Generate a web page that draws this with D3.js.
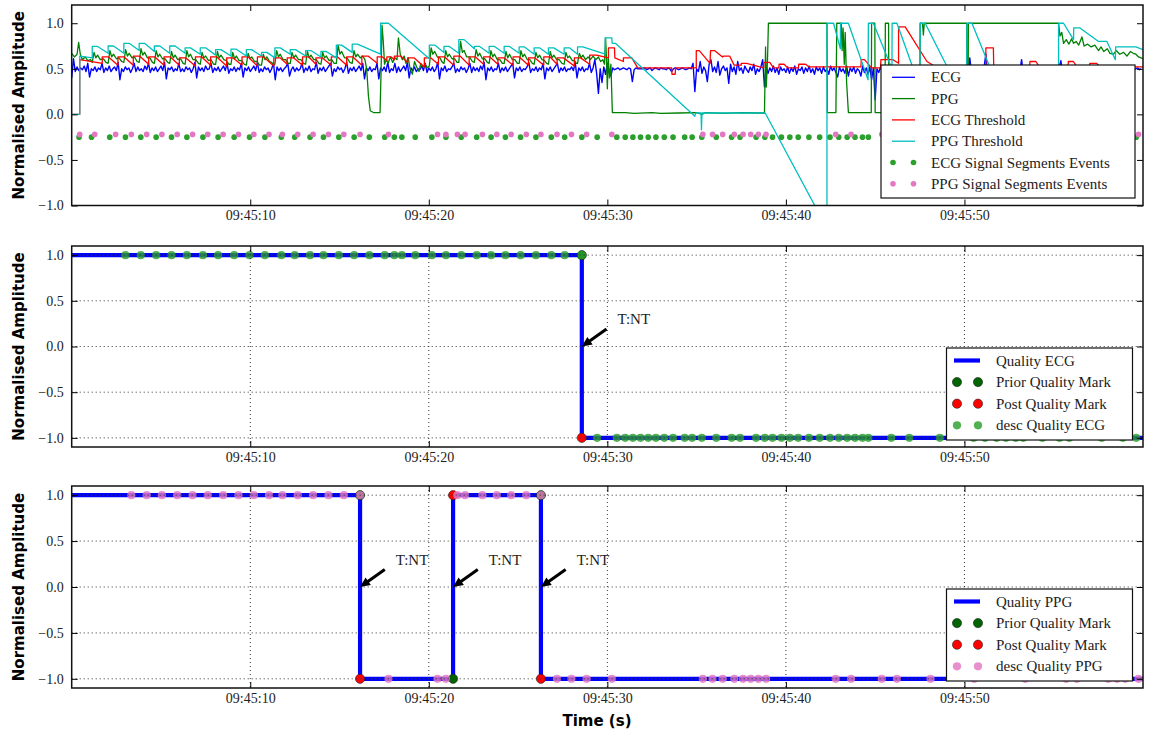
<!DOCTYPE html>
<html>
<head>
<meta charset="utf-8">
<script src="https://cdn.jsdelivr.net/npm/d3@7"></script>
<style>
  body { margin: 0; background: #fff; }
  svg { display: block; }
</style>
</head>
<body>
<svg id="chart" width="1154" height="733"></svg>
<script>
// ---------------------------------------------------------------------------
// Recording window: 09:45:00 + seconds
// ---------------------------------------------------------------------------
const windowStart = new Date(2016, 0, 1, 9, 45, 0);
const windowLength = 60;                    // seconds
const timeTicks = [10, 20, 30, 40, 50];     // seconds after 09:45:00
const ampTicks = [-1, -0.5, 0, 0.5, 1];

// ECG, normalised, sampled every 0.1 s (values in hundredths)
const ecgStart = 0, ecgStep = 0.1;
const ecgValues = [
  40,61,47,52,48,51,49,53,47,56,41,50,48,52,47,51,49,56,46,51,
  48,53,47,50,52,48,57,38,50,47,52,49,51,46,50,56,47,52,48,50,
  47,53,49,56,46,51,48,52,47,50,53,48,57,39,51,49,52,47,50,48,
  56,47,50,47,52,49,51,46,50,57,40,52,48,51,47,53,49,50,56,46,
  51,48,52,47,50,53,48,56,45,50,48,52,47,51,49,56,41,51,48,52,
  47,50,53,48,57,46,50,47,52,49,51,46,50,56,38,52,48,51,47,50,
  52,56,42,49,52,47,51,48,50,56,46,51,48,53,47,50,49,57,45,51,
  48,52,47,50,53,56,42,50,47,52,49,51,46,50,57,45,51,48,52,47,
  50,53,48,56,39,51,48,52,47,50,49,56,39,51,48,52,47,57,46,50,
  48,56,46,52,47,50,53,48,57,40,51,48,52,47,50,49,53,48,56,46,
  51,48,52,47,50,57,39,51,48,53,47,50,49,52,56,46,50,47,52,49,
  51,46,50,56,46,52,48,51,47,53,49,57,38,51,48,52,47,50,49,56,
  46,51,48,52,47,50,53,56,40,51,48,52,47,50,49,52,57,46,50,48,
  52,47,51,49,56,39,51,48,52,47,50,53,56,46,51,48,52,47,50,49,
  52,48,57,40,51,48,52,47,50,49,56,46,51,60,45,23,50,35,52,44,
  56,47,42,51,49,50,51,49,50,51,50,49,51,50,36,49,51,50,50,50,
  50,51,49,50,51,48,50,51,50,49,51,50,50,49,51,50,47,50,51,50,
  49,50,51,50,49,50,51,50,56,25,50,47,58,45,52,48,36,55,60,47,
  52,46,58,43,50,53,48,51,34,55,47,52,44,58,48,51,45,53,49,46,
  52,48,55,44,50,47,52,60,30,53,45,51,47,53,46,51,44,52,48,50,
  46,52,45,51,47,53,44,50,48,52,45,51,47,53,46,50,44,52,48,51,
  45,52,47,50,44,53,48,51,46,41,52,47,50,45,53,42,51,47,52,45,
  50,48,42,53,46,51,44,52,38,51,16,50,46,52,47,51,45,53,48,50,
  46,52,47,51,44,50,53,47,51,45,52,48,50,46,53,47,51,44,52,48,
  50,46,52,47,51,45,53,48,50,46,52,47,51,44,50,53,47,51,45,52,
  48,50,46,62,44,51,47,53,46,50,48,52,66,42,50,47,52,45,51,48,
  50,46,52,47,51,45,53,48,50,46,52,47,60,44,50,53,47,51,45,52,
  48,50,46,52,47,51,45,53,48,50,46,52,47,51,59,44,50,53,47,51,
  45,52,48,50,46,52,47,51,45,53,48,50,46,52,47,51,45,53,48,50,
  46,52,47,51,45,53,48,50,46,52,47,51,49,50,51,49,50,51,49,50
];

// PPG, normalised: [seconds, amplitude]
const ppg = [
  [0,.67],[0.15,.63],[0.3,.66],[0.39,.79],[0.48,.66],[0.6,.6],[0.75,.63],[0.9,.59],[1.05,.6],
  [1.15,.57],[1.25,.68],[1.35,.62],[1.45,.65],[1.6,.6],[1.78,.61],[1.92,.57],
  [2.04,.56],[2.14,.70],[2.24,.63],[2.34,.66],[2.5,.61],[2.65,.62],[2.8,.58],
  [2.92,.57],[3.02,.71],[3.12,.64],[3.22,.67],[3.38,.62],[3.52,.63],[3.66,.58],
  [3.78,.57],[3.88,.72],[3.98,.65],[4.08,.68],[4.24,.62],[4.38,.62],[4.52,.57],
  [4.63,.56],[4.73,.70],[4.83,.63],[4.93,.66],[5.08,.61],[5.22,.61],[5.38,.57],
  [5.49,.56],[5.59,.69],[5.69,.62],[5.79,.65],[5.94,.6],[6.1,.61],[6.24,.56],
  [6.35,.55],[6.45,.70],[6.55,.63],[6.65,.66],[6.8,.6],[6.95,.6],[7.1,.56],
  [7.2,.55],[7.3,.68],[7.4,.62],[7.5,.64],[7.66,.59],[7.8,.6],[7.95,.55],
  [8.06,.55],[8.16,.69],[8.26,.62],[8.36,.65],[8.52,.6],[8.66,.59],[8.8,.55],
  [8.92,.55],[9.02,.68],[9.12,.61],[9.22,.64],[9.38,.59],[9.52,.59],[9.66,.55],
  [9.78,.54],[9.88,.67],[9.98,.61],[10.08,.63],[10.24,.58],[10.38,.58],[10.52,.54],
  [10.63,.54],[10.73,.66],[10.83,.6],[10.93,.63],[11.08,.58],[11.2,.57],[11.3,.55],
  [11.38,.55],[11.48,.70],[11.58,.63],[11.68,.66],[11.84,.6],[11.98,.6],[12.12,.56],
  [12.24,.56],[12.34,.68],[12.44,.62],[12.54,.65],[12.7,.6],[12.84,.6],[12.98,.56],
  [13.1,.55],[13.2,.69],[13.3,.62],[13.4,.65],[13.56,.6],[13.7,.6],[13.84,.56],
  [13.96,.55],[14.06,.68],[14.16,.62],[14.26,.64],[14.42,.59],[14.56,.6],[14.7,.56],
  [14.82,.56],[14.92,.76],[15.02,.66],[15.12,.69],[15.28,.62],[15.42,.62],[15.58,.57],
  [15.71,.56],[15.81,.70],[15.91,.63],[16.01,.66],[16.16,.62],[16.3,.64],[16.42,.6],
  [16.52,.5],[16.62,.2],[16.72,.04],[16.9,.02],[17.1,.02],[17.27,.02],[17.33,.5],[17.38,.98],
  [17.45,.8],[17.52,.55],[17.62,.6],[17.72,.56],[17.85,.63],[17.98,.57],[18.1,.62],[18.22,.6],
  [18.3,.84],[18.4,.66],[18.52,.6],[18.62,.64],[18.72,.56],[18.85,.62],[18.95,.5],[19.08,.44],
  [19.2,.58],[19.32,.52],[19.45,.47],[19.55,.56],[19.68,.52],[19.8,.55],[19.92,.51],
  [20.03,.53],[20.13,.73],[20.23,.66],[20.33,.69],[20.48,.63],[20.62,.62],[20.76,.57],
  [20.85,.56],[20.95,.70],[21.05,.63],[21.15,.66],[21.3,.61],[21.45,.61],[21.58,.57],
  [21.68,.57],[21.78,.80],[21.88,.68],[21.98,.7],[22.12,.63],[22.28,.63],[22.44,.58],
  [22.55,.57],[22.65,.71],[22.75,.64],[22.85,.67],[23.0,.61],[23.14,.61],[23.28,.57],
  [23.38,.56],[23.48,.70],[23.58,.63],[23.68,.66],[23.84,.6],[23.98,.6],[24.12,.56],
  [24.22,.56],[24.32,.69],[24.42,.62],[24.52,.66],[24.68,.6],[24.82,.6],[24.96,.56],
  [25.06,.56],[25.16,.70],[25.26,.63],[25.36,.66],[25.52,.6],[25.66,.6],[25.8,.56],
  [25.9,.55],[26.0,.68],[26.1,.62],[26.2,.65],[26.34,.6],[26.48,.59],[26.6,.56],
  [26.7,.55],[26.8,.69],[26.9,.62],[27.0,.65],[27.16,.6],[27.3,.6],[27.46,.56],
  [27.58,.55],[27.68,.68],[27.78,.62],[27.88,.64],[28.04,.59],[28.16,.59],[28.26,.56],
  [28.33,.56],[28.43,.67],[28.53,.62],[28.63,.65],[28.78,.6],[28.92,.63],[29.05,.6],
  [29.2,.64],[29.35,.6],[29.5,.63],[29.62,.58],[29.75,.6],[29.84,.55],[29.9,.84],
  [29.95,.62],[30.0,.28],[30.05,.62],[30.12,.4],[30.2,.55],[30.28,.02],[31.0,.02],
  [31.5,.01],[32.5,.02],[33.0,.01],[34.0,.015],[35.0,.02],[35.3,0],[35.5,.02],
  [36.5,.01],[37.5,.02],[38.5,.015],[38.8,.015],
  [38.86,.74],[38.9,.3],[38.97,.6],[39.02,1],[42.3,1],[42.32,.02],[42.8,.02],
  [42.85,1],[43.1,1],[43.15,.7],[43.2,.95],[43.27,.55],[43.32,.9],[43.4,.35],[43.5,.02],
  [44.78,.02],[44.8,1],[44.98,1],[45.0,.02],[45.55,.02],[45.57,1],[45.75,1],[45.77,.02],
  [47.5,.02],[47.52,1],[47.65,1],[47.7,.87],[47.75,1],[50.13,1],[50.15,.02],[50.2,.02],
  [50.22,1],[55.27,1],
  [55.35,.86],[55.45,.9],[55.55,.78],[55.7,.82],[55.85,.77],[56.0,.83],[56.11,.78],
  [56.25,.8],[56.4,.76],[56.58,.85],[56.7,.75],[56.9,.77],[57.1,.74],[57.3,.76],
  [57.51,.7],[57.65,.74],[57.8,.69],[58.0,.72],[58.15,.67],[58.35,.66],[58.5,.7],
  [58.7,.66],[58.91,.68],[59.1,.64],[59.3,.69],[59.45,.67],[59.6,.66],[59.75,.63],[60,.61]
];

// Adaptive ECG detection threshold: [seconds, amplitude]
const ecgThreshold = [
  [0,0],[0.45,0],[0.45,.60],
  [1.71,.56],[1.71,.63],[2.06,.63],[2.59,.54],[2.59,.63],[2.94,.63],
  [3.45,.54],[3.45,.64],[3.8,.64],[4.31,.55],[4.31,.63],[4.66,.63],
  [5.17,.54],[5.17,.63],[5.52,.63],[6.03,.54],[6.03,.62],[6.38,.62],
  [6.93,.53],[6.93,.63],[7.28,.63],[7.78,.54],[7.78,.63],[8.13,.63],
  [8.68,.53],[8.68,.62],[9.03,.62],[9.54,.54],[9.54,.63],[9.89,.63],
  [10.40,.53],[10.40,.63],[10.75,.63],[11.32,.53],[11.32,.62],[11.67,.62],
  [12.07,.55],[12.07,.62],[12.42,.62],[12.93,.54],[12.93,.63],[13.28,.63],
  [13.68,.55],[13.68,.62],[14.03,.62],[14.54,.54],[14.54,.63],[14.89,.63],
  [15.40,.54],[15.40,.63],[15.75,.63],[16.25,.54],[16.25,.64],[16.6,.64],
  [17.11,.56],[17.11,.63],[17.4,.63],[17.65,.59],[17.65,.63],[17.9,.63],
  [18.07,.60],[18.07,.64],[18.42,.64],[18.82,.57],[18.82,.62],[19.17,.62],
  [19.75,.52],[19.75,.62],[20.1,.62],[20.54,.55],[20.54,.63],[20.89,.63],
  [21.40,.54],[21.40,.64],[21.75,.64],[22.26,.54],[22.26,.63],[22.61,.63],
  [23.07,.55],[23.07,.63],[23.42,.63],[23.87,.55],[23.87,.62],[24.22,.62],
  [24.72,.54],[24.72,.63],[25.07,.63],[25.58,.54],[25.58,.62],[25.93,.62],
  [26.44,.54],[26.44,.63],[26.79,.63],[27.19,.55],[27.19,.62],[27.54,.62],
  [28.15,.53],[28.15,.62],[28.5,.62],[29.01,.55],[29.01,.65],[29.4,.65],
  [30.06,.62],[30.06,.73],[30.4,.73],[30.42,.62],[30.9,.58],[30.9,.62],[31.37,.62],[31.7,.51],
  [33.6,.51],[33.62,.44],[33.8,.44],[33.82,.51],[34.98,.51],[34.98,.70],[35.15,.70],[35.75,.56],
  [35.78,.70],[36.0,.70],[36.45,.63],[36.5,.64],[36.85,.64],[37.1,.54],
  [37.5,.54],[37.5,.56],[37.8,.56],[38.75,.51],[38.77,.57],[39.1,.57],[39.3,.51],
  [39.6,.51],[39.62,.55],[39.9,.55],[40.1,.51],[40.7,.51],[40.72,.55],[41.1,.55],[41.3,.52],
  [44.2,.52],[44.22,.6],[44.4,.6],[44.8,.51],[45.3,.51],[45.32,.6],[46.0,.6],[46.31,.56],
  [46.31,.96],[46.68,.96],[47.9,.58],[48.4,.52],[51.2,.52],[51.2,.73],[51.62,.73],[51.64,.53],
  [53.65,.52],[53.67,.58],[54.0,.58],[54.2,.52],[55.8,.52],[55.82,.58],[56.1,.58],[56.3,.52],
  [57.0,.52],[57.02,.56],[57.4,.56],[57.6,.52],[60,.52]
];

// Adaptive PPG detection threshold: [seconds, amplitude]
const ppgThreshold = [
  [0,0],[0.45,0],[0.45,.64],
  [1.15,.62],[1.15,.745],[1.45,.745],[2.04,.67],[2.04,.75],[2.34,.75],
  [2.92,.67],[2.92,.78],[3.22,.78],[3.78,.70],[3.78,.78],[4.08,.78],
  [4.63,.69],[4.63,.75],[4.93,.75],[5.49,.67],[5.49,.75],[5.79,.75],
  [6.35,.67],[6.35,.73],[6.65,.73],[7.20,.66],[7.20,.73],[7.5,.73],
  [8.06,.65],[8.06,.71],[8.36,.71],[8.92,.64],[8.92,.715],[9.22,.715],
  [9.78,.64],[9.78,.71],[10.08,.71],[10.63,.64],[10.63,.68],[10.93,.68],
  [11.38,.62],[11.38,.73],[11.68,.73],[12.24,.66],[12.24,.71],[12.54,.71],
  [13.10,.64],[13.10,.70],[13.4,.70],[13.96,.63],[13.96,.69],[14.26,.69],
  [14.82,.62],[14.82,.76],[15.12,.76],[15.71,.68],[15.71,.77],[16.0,.77],
  [17.3,.66],[17.3,1],[17.74,1],
  [20.03,.61],[20.03,.76],[20.33,.76],[20.85,.68],[20.85,.745],[21.15,.745],
  [21.68,.67],[21.68,.82],[21.98,.82],[22.55,.72],[22.55,.745],[22.85,.745],
  [23.38,.67],[23.38,.745],[23.68,.745],[24.22,.67],[24.22,.745],[24.52,.745],
  [25.06,.67],[25.06,.74],[25.36,.74],[25.9,.66],[25.9,.73],[26.2,.73],
  [26.7,.66],[26.7,.73],[27.0,.73],[27.58,.66],[27.58,.73],[27.88,.73],
  [28.33,.66],[28.33,.74],[28.63,.74],[29.88,.66],[29.88,.84],[30.25,.84],[30.27,.78],[30.45,.78],
  [34.9,-.02],[34.95,.015],[35.25,.015],[35.27,-.17],[35.3,.015],[38.84,.015],
  [42.3,-1.25],[42.3,1],[42.67,1],[43.05,.72],[43.06,1],[43.5,1],
  [44.6,.38],[44.62,1],[44.9,1],[45.94,.5],[45.95,1],[46.22,1],
  [47.5,.3],[47.52,1],[47.8,1],[50.12,.1],[50.14,1],[50.42,1],
  [52.5,0],[55.27,0],[55.27,1],[55.55,1],[56.11,.82],[56.12,.95],[56.45,.95],
  [57.51,.8],[57.98,.8],[58.45,.6],[58.47,.74],[59.6,.74],[60,.71]
];

// Detected signal segment events (seconds)
const ecgEvents = [
  0.41,1.11,2.13,3.01,3.87,4.73,5.59,6.45,7.35,8.20,9.10,9.96,10.82,11.74,12.49,13.35,
  14.10,14.96,15.82,16.67,17.53,18.07,18.49,19.24,20.17,20.96,21.82,22.68,23.49,24.29,
  25.14,26.00,26.86,27.61,28.57,29.43,30.53,31.0,31.43,31.86,32.29,32.72,33.19,33.68,
  34.33,34.75,35.29,36.1,36.96,37.43,38.33,38.82,39.25,39.75,40.22,40.69,41.29,41.89,
  42.47,42.96,43.43,43.87,44.29,44.62,45.90,46.91,48.62,50.51,51.15,51.80,52.33,52.87,
  53.29,54.37,55.33,55.87,57.69,58.87,59.62
];
const ppgEvents = [
  0.45,1.29,2.46,3.34,4.20,5.05,5.91,6.77,7.62,8.48,9.34,10.20,11.05,11.80,12.66,13.52,
  14.38,15.24,16.15,17.74,20.49,20.96,21.60,22.03,23.00,23.81,24.61,25.46,26.28,27.18,
  27.99,28.84,30.25,35.35,35.89,36.46,37.11,37.60,38.03,38.46,38.89,42.79,43.65,45.37,
  46.22,48.10,50.55,53.40,55.70,56.30,58.05,58.55,59.0,59.75
];
const ecgEventLevel = -0.25;
const ppgEventLevel = -0.22;
const descStart = 3.0;   // quality descriptors start after the warm-up

// Signal quality state (1 = good, -1 = poor): [seconds, state]
const qualityEcg = [[0, 1], [28.57, -1], [60, -1]];
const qualityPpg = [[0, 1], [16.15, -1], [21.36, 1], [26.28, -1], [60, -1]];
const transitionLabel = "T:NT";

// ---------------------------------------------------------------------------
// Layout
// ---------------------------------------------------------------------------
const svg = d3.select("#chart");
const plotLeft = 71.7, plotRight = 1143;
const serif = "'Liberation Serif', 'Times New Roman', serif";
const sans = "'DejaVu Sans', sans-serif";
const descOpacity = 0.82;

const toDate = s => new Date(windowStart.getTime() + s * 1000);
const x = d3.scaleTime()
  .domain([toDate(0), toDate(windowLength)])
  .range([plotLeft, plotRight]);

const panels = [
  { id: "signals", top: 5,   bottom: 205.5, domain: [-1, 1.2],  grid: false },
  { id: "ecgq",    top: 246, bottom: 447,   domain: [-1.1, 1.1], grid: true },
  { id: "ppgq",    top: 486, bottom: 688,   domain: [-1.1, 1.1], grid: true }
];
panels.forEach(p => {
  p.y = d3.scaleLinear().domain(p.domain).range([p.bottom, p.top]);
  p.g = svg.append("g");
  const cid = "clip-" + p.id;
  svg.append("clipPath").attr("id", cid).append("rect")
    .attr("x", plotLeft).attr("y", p.top)
    .attr("width", plotRight - plotLeft).attr("height", p.bottom - p.top);
  p.data = p.g.append("g").attr("clip-path", `url(#${cid})`);
});

const line = y => d3.line().x(d => x(toDate(d[0]))).y(d => y(d[1]));

// ---------------------------------------------------------------------------
// Panel 1: raw signals, thresholds and events
// ---------------------------------------------------------------------------
const P1 = panels[0];
const ecg = ecgValues.map((v, i) => [ecgStart + i * ecgStep, v / 100]);

const signalSeries = [
  { name: "ECG",           data: ecg,          color: "#0000ff", width: 1.4 },
  { name: "PPG",           data: ppg,          color: "#008000", width: 1.3 },
  { name: "ECG Threshold", data: ecgThreshold, color: "#ff0000", width: 1.3 },
  { name: "PPG Threshold", data: ppgThreshold, color: "#00bfbf", width: 1.3 }
];
signalSeries.forEach(s => {
  P1.data.append("path")
    .attr("d", line(P1.y)(s.data))
    .attr("fill", "none")
    .attr("stroke", s.color)
    .attr("stroke-width", s.width)
    .attr("stroke-linejoin", "round");
});

const eventSeries = [
  { name: "ECG Signal Segments Events", times: ecgEvents, level: ecgEventLevel, color: "#2ca02c" },
  { name: "PPG Signal Segments Events", times: ppgEvents, level: ppgEventLevel, color: "#e377c2" }
];
eventSeries.forEach(s => {
  P1.data.append("g").selectAll("circle").data(s.times).join("circle")
    .attr("cx", t => x(toDate(t)))
    .attr("cy", P1.y(s.level))
    .attr("r", 2.8)
    .attr("fill", s.color);
});

// ---------------------------------------------------------------------------
// Panels 2 & 3: quality state
// ---------------------------------------------------------------------------
function stateAt(steps, t) {
  let v = steps[0][1];
  for (const s of steps) { if (s[0] < t) v = s[1]; }
  return v;
}

function drawArrow(g, x1, y1, x2, y2) {
  const dx = x2 - x1, dy = y2 - y1, len = Math.hypot(dx, dy);
  const ux = dx / len, uy = dy / len, px = -uy, py = ux;
  const head = 10, hw = 4.6, sw = 1.5;
  const bx = x2 - ux * head, by = y2 - uy * head;
  const pts = [
    [x1 + px * sw, y1 + py * sw], [bx + px * sw, by + py * sw], [bx + px * hw, by + py * hw],
    [x2, y2],
    [bx - px * hw, by - py * hw], [bx - px * sw, by - py * sw], [x1 - px * sw, y1 - py * sw]
  ];
  g.append("polygon").attr("points", pts.map(p => p.join(",")).join(" ")).attr("fill", "#000");
}

function qualityPanel(p, steps, events, descColor) {
  p.data.append("path")
    .attr("d", line(p.y).curve(d3.curveStepAfter)(steps))
    .attr("fill", "none")
    .attr("stroke", "#0000ff")
    .attr("stroke-width", 4.2);

  const changes = steps.slice(1, -1);
  const prior = changes.map((c, i) => [c[0], steps[i][1]]);
  const post = changes.map(c => [c[0], c[1]]);

  const mark = (pts, color) => p.data.append("g").selectAll("circle").data(pts).join("circle")
    .attr("cx", d => x(toDate(d[0])))
    .attr("cy", d => p.y(d[1]))
    .attr("r", 4.6)
    .attr("fill", color)
    .attr("stroke", "#222")
    .attr("stroke-width", 0.6);
  mark(prior, "#006400");
  mark(post, "#ff0000");

  const desc = events.filter(t => t >= descStart);
  p.data.append("g").selectAll("circle").data(desc).join("circle")
    .attr("cx", t => x(toDate(t)))
    .attr("cy", t => p.y(stateAt(steps, t)))
    .attr("r", 4.1)
    .attr("fill", descColor)
    .attr("fill-opacity", descOpacity);

  p.changes = changes;
}

qualityPanel(panels[1], qualityEcg, ecgEvents, "#2ca02c");
qualityPanel(panels[2], qualityPpg, ppgEvents, "#e377c2");

// ---------------------------------------------------------------------------
// Grid, ticks and frames
// ---------------------------------------------------------------------------
const fmtTime = d3.timeFormat("%H:%M:%S");
const fmtAmp = d3.format(".1f");
const tickDates = timeTicks.map(toDate);

panels.forEach(p => {
  const g = p.g;
  if (p.grid) {
    const grid = g.append("g").attr("stroke", "#333").attr("stroke-width", 1)
      .attr("stroke-dasharray", "1,3");
    tickDates.forEach(d => grid.append("line")
      .attr("x1", x(d)).attr("x2", x(d)).attr("y1", p.top).attr("y2", p.bottom));
    ampTicks.forEach(v => grid.append("line")
      .attr("x1", plotLeft).attr("x2", plotRight).attr("y1", p.y(v)).attr("y2", p.y(v)));
  }

  const styleAxis = sel => {
    sel.select(".domain").remove();
    sel.selectAll(".tick line").attr("stroke", "#000").attr("stroke-width", 1);
    sel.selectAll(".tick text").attr("fill", "#222")
      .style("font-family", serif).style("font-size", "14px");
  };

  g.append("g").attr("transform", `translate(0,${p.bottom})`)
    .call(d3.axisBottom(x).tickValues(tickDates).tickFormat(fmtTime)
      .tickSizeInner(-6).tickSizeOuter(0).tickPadding(5))
    .call(styleAxis);
  g.append("g").attr("transform", `translate(0,${p.top})`)
    .call(d3.axisTop(x).tickValues(tickDates).tickFormat("")
      .tickSizeInner(-6).tickSizeOuter(0))
    .call(styleAxis);
  g.append("g").attr("transform", `translate(${plotLeft},0)`)
    .call(d3.axisLeft(p.y).tickValues(ampTicks).tickFormat(fmtAmp)
      .tickSizeInner(-6).tickSizeOuter(0).tickPadding(8))
    .call(styleAxis);
  g.append("g").attr("transform", `translate(${plotRight},0)`)
    .call(d3.axisRight(p.y).tickValues(ampTicks).tickFormat("")
      .tickSizeInner(-6).tickSizeOuter(0))
    .call(styleAxis);

  g.append("rect")
    .attr("x", plotLeft).attr("y", p.top)
    .attr("width", plotRight - plotLeft).attr("height", p.bottom - p.top)
    .attr("fill", "none").attr("stroke", "#111").attr("stroke-width", 1.5);

  svg.append("text")
    .attr("transform", `translate(23.5,${(p.top + p.bottom) / 2}) rotate(-90)`)
    .attr("text-anchor", "middle")
    .style("font-family", sans).style("font-weight", "bold").style("font-size", "15px")
    .text("Normalised Amplitude");
});

svg.append("text")
  .attr("x", 597).attr("y", 726)
  .attr("text-anchor", "middle")
  .style("font-family", sans).style("font-weight", "bold").style("font-size", "15px")
  .text("Time (s)");

// ---------------------------------------------------------------------------
// Transition annotations
// ---------------------------------------------------------------------------
[panels[1], panels[2]].forEach(p => {
  p.changes.forEach(c => {
    const ax = x(toDate(c[0])), ay = p.y(0);
    const tx = x(toDate(c[0] + 2)), ty = p.y(0.3);
    p.g.append("text")
      .attr("x", tx).attr("y", ty).attr("dy", "0.35em")
      .style("font-family", serif).style("font-size", "15px").attr("fill", "#222")
      .text(transitionLabel);
    drawArrow(p.g, tx - 11, ty + 10, ax, ay);
  });
});

// ---------------------------------------------------------------------------
// Legends
// ---------------------------------------------------------------------------
function legend(g, box, rows, layout) {
  const lg = g.append("g");
  lg.append("rect")
    .attr("x", box.x).attr("y", box.y).attr("width", box.w).attr("height", box.h)
    .attr("fill", "#fff").attr("stroke", "#111").attr("stroke-width", 1.2);
  rows.forEach((r, i) => {
    const cy = layout.row0 + i * layout.step;
    if (r.kind === "line") {
      lg.append("line")
        .attr("x1", layout.s0).attr("x2", layout.s1).attr("y1", cy).attr("y2", cy)
        .attr("stroke", r.color).attr("stroke-width", r.width);
    } else {
      [layout.m0, layout.m1].forEach(mx => lg.append("circle")
        .attr("cx", mx).attr("cy", cy).attr("r", r.r)
        .attr("fill", r.color)
        .attr("fill-opacity", r.opacity || 1)
        .attr("stroke", r.edge ? "#222" : "none").attr("stroke-width", 0.6));
    }
    lg.append("text")
      .attr("x", layout.tx).attr("y", cy).attr("dy", "0.34em")
      .style("font-family", serif).style("font-size", "15px").attr("fill", "#222")
      .text(r.label);
  });
}

legend(panels[0].g, { x: 881, y: 65, w: 254, h: 133 }, [
  ...signalSeries.map(s => ({ kind: "line", color: s.color, width: 1.3, label: s.name })),
  ...eventSeries.map(s => ({ kind: "dot", color: s.color, r: 2.8, label: s.name }))
], { row0: 77.3, step: 21.3, s0: 892, s1: 915, m0: 893, m1: 913.5, tx: 931 });

const qualityLegendRows = (name, descColor) => [
  { kind: "line", color: "#0000ff", width: 4.2, label: "Quality " + name },
  { kind: "dot", color: "#006400", r: 4.6, edge: true, label: "Prior Quality Mark" },
  { kind: "dot", color: "#ff0000", r: 4.6, edge: true, label: "Post Quality Mark" },
  { kind: "dot", color: descColor, r: 4.1, opacity: descOpacity, label: "desc Quality " + name }
];
const qLayout = top => ({ row0: top + 12.5, step: 21.6, s0: 954, s1: 980, m0: 957, m1: 978, tx: 996 });

legend(panels[1].g, { x: 946.5, y: 348, w: 186, h: 92 }, qualityLegendRows("ECG", "#2ca02c"), qLayout(348));
legend(panels[2].g, { x: 946.5, y: 589, w: 186, h: 92 }, qualityLegendRows("PPG", "#e377c2"), qLayout(589));
</script>
</body>
</html>
